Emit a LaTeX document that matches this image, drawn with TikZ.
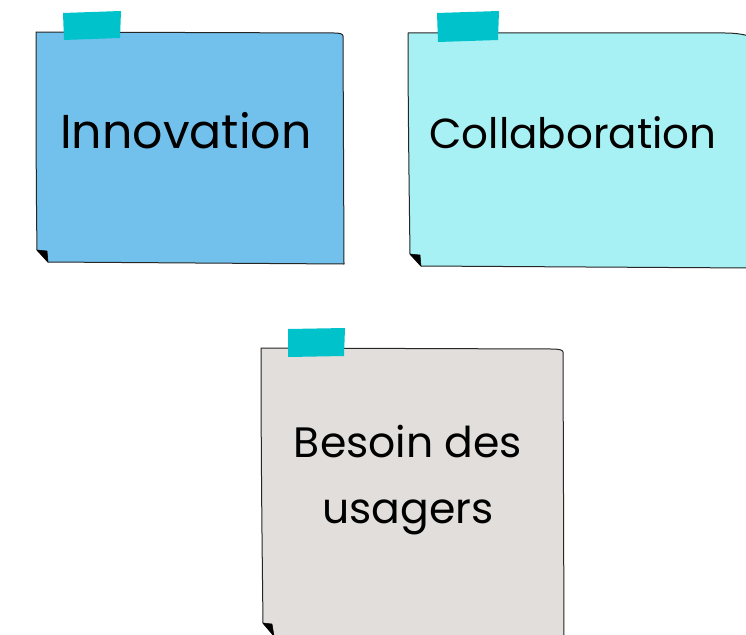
\documentclass[tikz,border=0pt]{standalone}
\usepackage{fontspec}
\setmainfont{Poppins}
\definecolor{noteblue}{RGB}{113,193,236}
\definecolor{notecyan}{RGB}{167,240,243}
\definecolor{notegrey}{RGB}{225,222,220}
\definecolor{tape}{RGB}{0,194,203}
\tikzset{
  notepaper/.style={draw=black!85, line width=1pt, line join=round},
  foldcorner/.style={fill=black, draw=black, line width=0.5pt},
  tapestrip/.style={fill=tape, draw=none},
  notetext/.style={anchor=base, text=black, inner sep=0pt}
}
\begin{document}
\begin{tikzpicture}[x=1pt,y=-1pt]
\useasboundingbox (0,0) rectangle (746,634);
\clip (0,0) rectangle (746,634);
% note 1
\path[notepaper, fill=noteblue] (36,32) -- (334,33) .. controls (340,33) and (343,34) .. (343,36) -- (344,264) -- (48,262) -- (37,250) .. controls (36,180) and (36,100) .. (36,32) -- cycle;
\path[foldcorner] (37,250) -- (47,251) -- (48,262) -- cycle;
\path[tapestrip] (63,13) -- (121,11) -- (120,38) -- (64,40) -- cycle;
% note 2
\path[notepaper, fill=notecyan] (408,33) -- (725,33) .. controls (738,33) and (746,35) .. (752,37) -- (752,268) -- (421,266) -- (410,254) .. controls (409,180) and (408,100) .. (408,33) -- cycle;
\path[foldcorner] (410,254) -- (420,255) -- (421,266) -- cycle;
\path[tapestrip] (437,13) -- (499,11) -- (498,40) -- (438,42) -- cycle;
% note 3
\path[notepaper, fill=notegrey] (261,348) -- (552,349) .. controls (559,349) and (563,350) .. (563,352) -- (564,640) -- (274,636) -- (263,623) .. controls (262,540) and (261,450) .. (261,348) -- cycle;
\path[foldcorner] (263,623) -- (272,624) -- (274,636) -- cycle;
\path[tapestrip] (288,329) -- (345,328) -- (344,356) -- (288,357) -- cycle;
% texts
\node[notetext, font=\fontsize{47.5}{56}\selectfont] (innov) at (186,148) {Innovation};
\node[notetext, font=\fontsize{42}{50}\selectfont] (collab) at (573,148) {Collaboration};
\node[notetext, font=\fontsize{42.5}{50}\selectfont] (besoin) at (408,457) {Besoin des};
\node[notetext, font=\fontsize{42.5}{50}\selectfont] (usagers) at (408,523) {usagers};
\end{tikzpicture}
\end{document}
